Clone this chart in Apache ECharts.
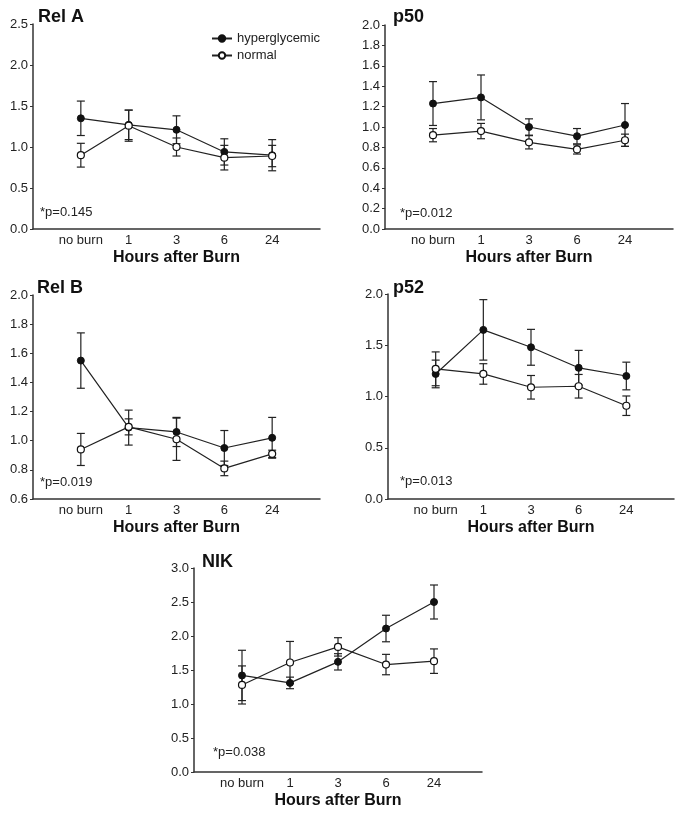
<!DOCTYPE html>
<html><head><meta charset="utf-8">
<script src="https://cdn.jsdelivr.net/npm/echarts@6/dist/echarts.min.js"></script>
<style>html,body{margin:0;padding:0;background:#fff}#c{width:686px;height:814px}</style>
</head><body><div id="c"></div>
<script>
// ---- data ----
const categories = ['no burn', '1', '3', '6', '24'];

const relA_hyper     = [1.35, 1.27, 1.21, 0.94, 0.90];
const relA_hyperErr  = [0.21, 0.18, 0.17, 0.16, 0.19];
const relA_normal    = [0.90, 1.26, 1.00, 0.87, 0.89];
const relA_normalErr = [0.145, 0.19, 0.11, 0.15, 0.13];

const p50_hyper      = [1.23, 1.29, 1.00, 0.91, 1.02];
const p50_hyperErr   = [0.215, 0.22, 0.08, 0.075, 0.21];
const p50_normal     = [0.92, 0.96, 0.85, 0.78, 0.87];
const p50_normalErr  = [0.065, 0.075, 0.065, 0.045, 0.06];

const relB_hyper     = [1.55, 1.09, 1.06, 0.95, 1.02];
const relB_hyperErr  = [0.19, 0.12, 0.10, 0.12, 0.14];
const relB_normal    = [0.94, 1.095, 1.01, 0.81, 0.91];
const relB_normalErr = [0.11, 0.055, 0.145, 0.05, 0.025];

const p52_hyper      = [1.22, 1.65, 1.48, 1.28, 1.20];
const p52_hyperErr   = [0.135, 0.295, 0.175, 0.17, 0.135];
const p52_normal     = [1.27, 1.22, 1.09, 1.10, 0.91];
const p52_normalErr  = [0.165, 0.10, 0.115, 0.115, 0.095];

const nik_hyper      = [1.42, 1.31, 1.62, 2.11, 2.50];
const nik_hyperErr   = [0.37, 0.085, 0.12, 0.195, 0.25];
const nik_normal     = [1.28, 1.61, 1.84, 1.58, 1.63];
const nik_normalErr  = [0.28, 0.31, 0.135, 0.15, 0.18];

const yTicks = {
  relA: {min: 0, max: 2.5, interval: 0.5},
  p50:  {min: 0, max: 2.0, interval: 0.2},
  relB: {min: 0.6, max: 2.0, interval: 0.2},
  p52:  {min: 0, max: 2.0, interval: 0.5},
  nik:  {min: 0, max: 3.0, interval: 0.5}
};

const panels = [
  {title: 'Rel A', p: '*p=0.145', h: relA_hyper, he: relA_hyperErr, n: relA_normal, ne: relA_normalErr, y: yTicks.relA,
   grid: {left: 33, top: 24, width: 287, height: 205}, titlePos: [38, 18], pPos: [40, 213]},
  {title: 'p50', p: '*p=0.012', h: p50_hyper, he: p50_hyperErr, n: p50_normal, ne: p50_normalErr, y: yTicks.p50,
   grid: {left: 385, top: 25, width: 288, height: 204}, titlePos: [393, 18], pPos: [400, 214]},
  {title: 'Rel B', p: '*p=0.019', h: relB_hyper, he: relB_hyperErr, n: relB_normal, ne: relB_normalErr, y: yTicks.relB,
   grid: {left: 33, top: 295, width: 287, height: 204}, titlePos: [37, 289], pPos: [40, 483]},
  {title: 'p52', p: '*p=0.013', h: p52_hyper, he: p52_hyperErr, n: p52_normal, ne: p52_normalErr, y: yTicks.p52,
   grid: {left: 388, top: 294, width: 286, height: 205}, titlePos: [393, 289], pPos: [400, 482]},
  {title: 'NIK', p: '*p=0.038', h: nik_hyper, he: nik_hyperErr, n: nik_normal, ne: nik_normalErr, y: yTicks.nik,
   grid: {left: 194, top: 568, width: 288, height: 204}, titlePos: [202, 563], pPos: [213, 753]}
];

const FONT = '"Liberation Sans", Arial, sans-serif';
const INK = '#222';

function renderErr(params, api) {
  const x = api.value(0), m = api.value(1), e = api.value(2);
  const top = api.coord([x, m + e]);
  const bot = api.coord([x, m - e]);
  const w = 4;
  const st = {stroke: INK, lineWidth: 1.2};
  return {type: 'group', children: [
    {type: 'line', shape: {x1: top[0], y1: top[1], x2: bot[0], y2: bot[1]}, style: st},
    {type: 'line', shape: {x1: top[0] - w, y1: top[1], x2: top[0] + w, y2: top[1]}, style: st},
    {type: 'line', shape: {x1: bot[0] - w, y1: bot[1], x2: bot[0] + w, y2: bot[1]}, style: st}
  ]};
}

const grids = [], xAxes = [], yAxes = [], series = [], graphics = [];
panels.forEach((pn, i) => {
  grids.push(Object.assign({containLabel: false}, pn.grid));
  xAxes.push({
    type: 'value', gridIndex: i, min: -1, max: 5, interval: 1,
    axisLine: {show: true, onZero: false, lineStyle: {color: '#333', width: 1.5}},
    axisTick: {show: false}, splitLine: {show: false},
    axisLabel: {
      color: INK, fontFamily: FONT, fontSize: 13, margin: 5,
      showMinLabel: true, showMaxLabel: true,
      formatter: v => (v >= 0 && v < categories.length) ? categories[v] : ''
    },
    name: 'Hours after Burn', nameLocation: 'middle', nameGap: 21,
    nameTextStyle: {color: '#111', fontFamily: FONT, fontSize: 16, fontWeight: 'bold'}
  });
  yAxes.push({
    type: 'value', gridIndex: i, min: pn.y.min, max: pn.y.max, interval: pn.y.interval,
    axisLine: {show: true, onZero: false, lineStyle: {color: '#333', width: 1.5}},
    axisTick: {show: true, length: 3, lineStyle: {color: '#333'}},
    splitLine: {show: false},
    axisLabel: {color: INK, fontFamily: FONT, fontSize: 13, margin: 5,
      formatter: v => v.toFixed(1)}
  });
  const mk = (arr, err) => categories.map((c, k) => [k, arr[k], err[k]]);
  series.push({type: 'custom', xAxisIndex: i, yAxisIndex: i, renderItem: renderErr,
    data: mk(pn.h, pn.he), z: 1, silent: true, clip: false});
  series.push({type: 'custom', xAxisIndex: i, yAxisIndex: i, renderItem: renderErr,
    data: mk(pn.n, pn.ne), z: 1, silent: true, clip: false});
  series.push({name: 'hyperglycemic', type: 'line', xAxisIndex: i, yAxisIndex: i, z: 3,
    data: categories.map((c, k) => [k, pn.h[k]]), symbol: 'circle', symbolSize: 7,
    lineStyle: {color: INK, width: 1.2}, itemStyle: {color: '#111', borderColor: '#111', borderWidth: 1}});
  series.push({name: 'normal', type: 'line', xAxisIndex: i, yAxisIndex: i, z: 4,
    data: categories.map((c, k) => [k, pn.n[k]]), symbol: 'circle', symbolSize: 7,
    lineStyle: {color: INK, width: 1.2}, itemStyle: {color: '#fff', borderColor: '#111', borderWidth: 1.2}});
  graphics.push({type: 'text', left: pn.titlePos[0], top: pn.titlePos[1] - 10,
    style: {text: pn.title, font: 'bold 18px ' + FONT, fill: '#111'}});
  graphics.push({type: 'text', left: pn.pPos[0], top: pn.pPos[1] - 7,
    style: {text: pn.p, font: '13px ' + FONT, fill: INK}});
});

const chart = echarts.init(document.getElementById('c'), null, {renderer: 'canvas'});
chart.setOption({
  animation: false,
  backgroundColor: '#fff',
  grid: grids, xAxis: xAxes, yAxis: yAxes, series: series,
  legend: {data: ['hyperglycemic', 'normal'], orient: 'vertical', left: 206, top: 27,
    itemWidth: 20, itemHeight: 8, itemGap: 4,
    textStyle: {color: INK, fontFamily: FONT, fontSize: 13}},
  graphic: graphics
});
</script></body></html>
